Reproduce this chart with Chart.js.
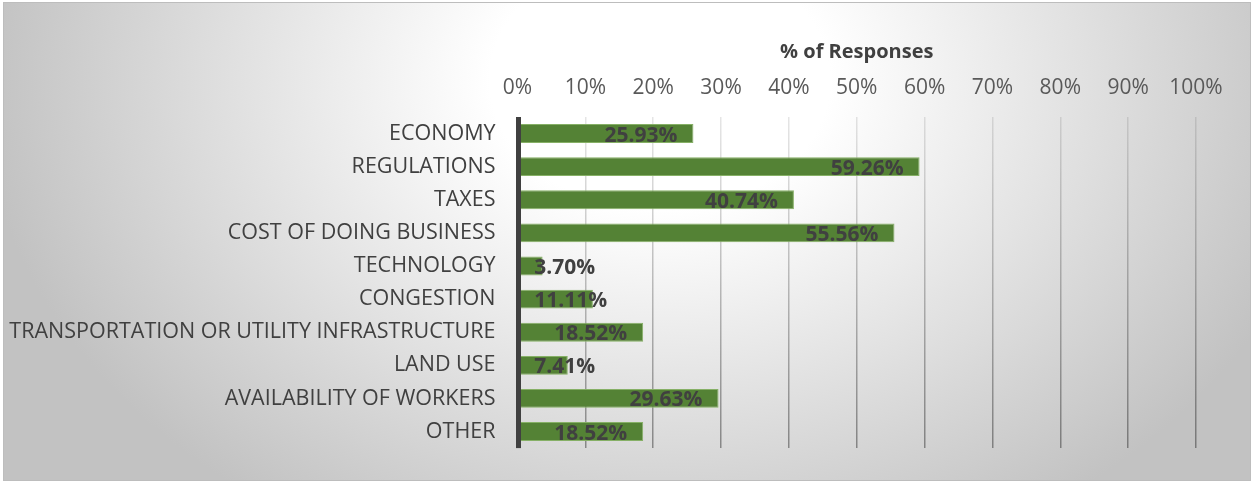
<!DOCTYPE html>
<html>
<head>
<meta charset="utf-8">
<title>Business concerns</title>
<script src="https://cdn.jsdelivr.net/npm/chart.js@4.4.1/dist/chart.umd.min.js"></script>
<style>
    html, body { margin: 0; padding: 0; background: #ffffff; }
    canvas { display: block; }
</style>
</head>
<body>
<canvas id="concernsChart" width="1254" height="483"></canvas>
<script>
// Survey results
const categories = [
    "ECONOMY",
    "REGULATIONS",
    "TAXES",
    "COST OF DOING BUSINESS",
    "TECHNOLOGY",
    "CONGESTION",
    "TRANSPORTATION OR UTILITY INFRASTRUCTURE",
    "LAND USE",
    "AVAILABILITY OF WORKERS",
    "OTHER"
];
const responseShares = [25.93, 59.26, 40.74, 55.56, 3.70, 11.11, 18.52, 7.41, 29.63, 18.52];
const axisTitle = "% of Responses";
const axisMin = 0;
const axisMax = 100;
const axisStep = 10;

const FONT = "'Open Sans', 'DejaVu Sans', sans-serif";
const TEXT_DARK = "#404040";

// Soft grey panel with a light centre, framed by a thin border
const panelBackground = {
    id: "panelBackground",
    beforeDraw(chart) {
        const ctx = chart.ctx;
        const w = chart.width, h = chart.height;
        ctx.save();
        ctx.fillStyle = "#ffffff";
        ctx.fillRect(0, 0, w, h);

        const x0 = 3, y0 = 2, x1 = w - 3, y1 = h - 2;
        const cx = 660, cy = 80, rx = 680, ry = 520;
        ctx.save();
        ctx.beginPath();
        ctx.rect(x0, y0, x1 - x0, y1 - y0);
        ctx.clip();
        ctx.translate(cx, cy);
        ctx.scale(1, ry / rx);
        const g = ctx.createRadialGradient(0, 0, 0, 0, 0, rx);
        g.addColorStop(0, "#ffffff");
        g.addColorStop(0.25, "#ffffff");
        g.addColorStop(1, "#c2c2c2");
        ctx.fillStyle = g;
        ctx.fillRect(-cx, -cy * rx / ry - 10, w, h * rx / ry + 20);
        ctx.restore();

        ctx.strokeStyle = "#bdbdbd";
        ctx.lineWidth = 1;
        ctx.strokeRect(x0 + 0.5, y0 + 0.5, x1 - x0 - 1, y1 - y0 - 1);
        ctx.restore();
    }
};

// Thick category axis line, drawn over the bar bases
const categoryAxisLine = {
    id: "categoryAxisLine",
    afterDatasetsDraw(chart) {
        const area = chart.chartArea;
        const x = chart.scales.x.getPixelForValue(0);
        const ctx = chart.ctx;
        ctx.save();
        ctx.fillStyle = "#404040";
        ctx.fillRect(x - 1.5, area.top, 5, area.bottom - area.top);
        ctx.restore();
    }
};

// Value labels at the inside end of each bar, kept clear of the axis
const valueLabels = {
    id: "valueLabels",
    afterDraw(chart) {
        const ctx = chart.ctx;
        const meta = chart.getDatasetMeta(0);
        ctx.save();
        ctx.font = "bold 21px " + FONT;
        ctx.fillStyle = TEXT_DARK;
        ctx.textAlign = "left";
        ctx.textBaseline = "middle";
        meta.data.forEach((bar, i) => {
            const text = responseShares[i].toFixed(2) + "%";
            const w = ctx.measureText(text).width;
            let left = bar.x - 16 - w;
            if (left < bar.base + 16) left = bar.base + 16;
            ctx.fillText(text, left, bar.y + 2);
        });
        ctx.restore();
    }
};

function gridColor(context) {
    const chart = context.chart;
    const area = chart.chartArea;
    if (!area) return "rgba(0,0,0,0.15)";
    const g = chart.ctx.createLinearGradient(0, area.top, 0, area.bottom);
    g.addColorStop(0, "rgba(0,0,0,0.10)");
    g.addColorStop(1, "rgba(0,0,0,0.38)");
    return g;
}

const ctx = document.getElementById("concernsChart");
new Chart(ctx, {
    type: "bar",
    data: {
        labels: categories,
        datasets: [{
            label: axisTitle,
            data: responseShares,
            backgroundColor: "#548235",
            borderColor: "#86b066",
            borderWidth: 1,
            borderSkipped: false,
            categoryPercentage: 1,
            barPercentage: 0.57
        }]
    },
    options: {
        indexAxis: "y",
        responsive: false,
        devicePixelRatio: 1,
        animation: false,
        layout: { padding: { left: 0, right: 58, top: 0, bottom: 30 } },
        plugins: {
            legend: { display: false },
            tooltip: { enabled: false }
        },
        scales: {
            x: {
                position: "top",
                min: axisMin,
                max: axisMax,
                afterFit(scale) { scale.height = 117; },
                ticks: {
                    stepSize: axisStep,
                    padding: 16,
                    color: "#595959",
                    font: { family: FONT, size: 21 },
                    callback: (v) => v + "%"
                },
                grid: {
                    color: gridColor,
                    lineWidth: 1.5,
                    drawTicks: false
                },
                border: { display: false },
                title: {
                    display: true,
                    text: axisTitle,
                    color: TEXT_DARK,
                    padding: { top: 40, bottom: 0 },
                    font: { family: FONT, size: 20, weight: "bold" }
                }
            },
            y: {
                afterFit(scale) { scale.width = 517.5; },
                ticks: {
                    padding: 22,
                    color: TEXT_DARK,
                    font: { family: FONT, size: 21.5 }
                },
                grid: { display: false, drawTicks: false },
                border: { display: false }
            }
        }
    },
    plugins: [panelBackground, categoryAxisLine, valueLabels]
});
</script>
</body>
</html>
